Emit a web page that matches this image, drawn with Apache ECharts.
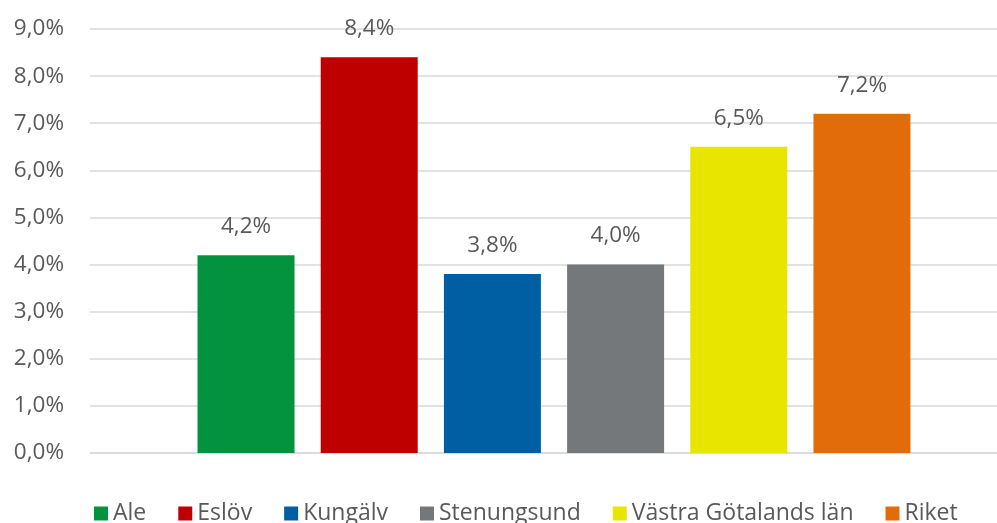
<!DOCTYPE html>
<html>
<head>
<meta charset="utf-8">
<script src="https://cdn.jsdelivr.net/npm/echarts@6/dist/echarts.min.js"></script>
<style>html,body{margin:0;padding:0;background:#fff;overflow:hidden;width:997px;height:523px}#c{width:1018px;height:523px}</style>
</head>
<body>
<div id="c"></div>
<script>
const seriesNames = ['Ale', 'Eslöv', 'Kungälv', 'Stenungsund', 'Västra Götalands län', 'Riket'];
const seriesValues = [4.2, 8.4, 3.8, 4.0, 6.5, 7.2];
const seriesColors = ['#03933F', '#BE0000', '#005FA3', '#75787B', '#E8E500', '#E36C0A'];
const categories = [''];
const yTicks = { min: 0, max: 9, interval: 1 };

const fmt = v => v.toFixed(1).replace('.', ',') + '%';
const font = '"Open Sans", "Noto Sans", sans-serif';

const chart = echarts.init(document.getElementById('c'), null, { renderer: 'canvas' });
chart.setOption({
  animation: false,
  backgroundColor: '#fff',
  grid: { left: 90, right: 0, top: 29, bottom: 70, containLabel: false },
  legend: {
    left: 94, top: 502, padding: 0,
    itemWidth: 14, itemHeight: 14, itemGap: 32,
    icon: 'rect',
    textStyle: { fontFamily: font, fontSize: 23, color: '#595959' },
    data: seriesNames
  },
  xAxis: {
    type: 'category', data: categories,
    axisLine: { show: true, lineStyle: { color: '#D9D9D9', width: 1.5 } },
    axisTick: { show: false }, axisLabel: { show: false }
  },
  yAxis: {
    type: 'value', min: yTicks.min, max: yTicks.max, interval: yTicks.interval,
    axisLine: { show: false }, axisTick: { show: false },
    splitLine: { lineStyle: { color: '#D9D9D9', width: 1.5 } },
    axisLabel: { formatter: v => fmt(v), fontFamily: font, fontSize: 22.5, color: '#595959', margin: 26 }
  },
  series: seriesNames.map((n, i) => ({
    name: n, type: 'bar',
    data: [seriesValues[i]],
    barWidth: 97, barGap: '27%',
    itemStyle: { color: seriesColors[i] },
    label: { show: true, position: 'top', distance: 17, formatter: p => fmt(p.value),
      fontFamily: font, fontSize: 22.5, color: '#595959' }
  }))
});
</script>
</body>
</html>
